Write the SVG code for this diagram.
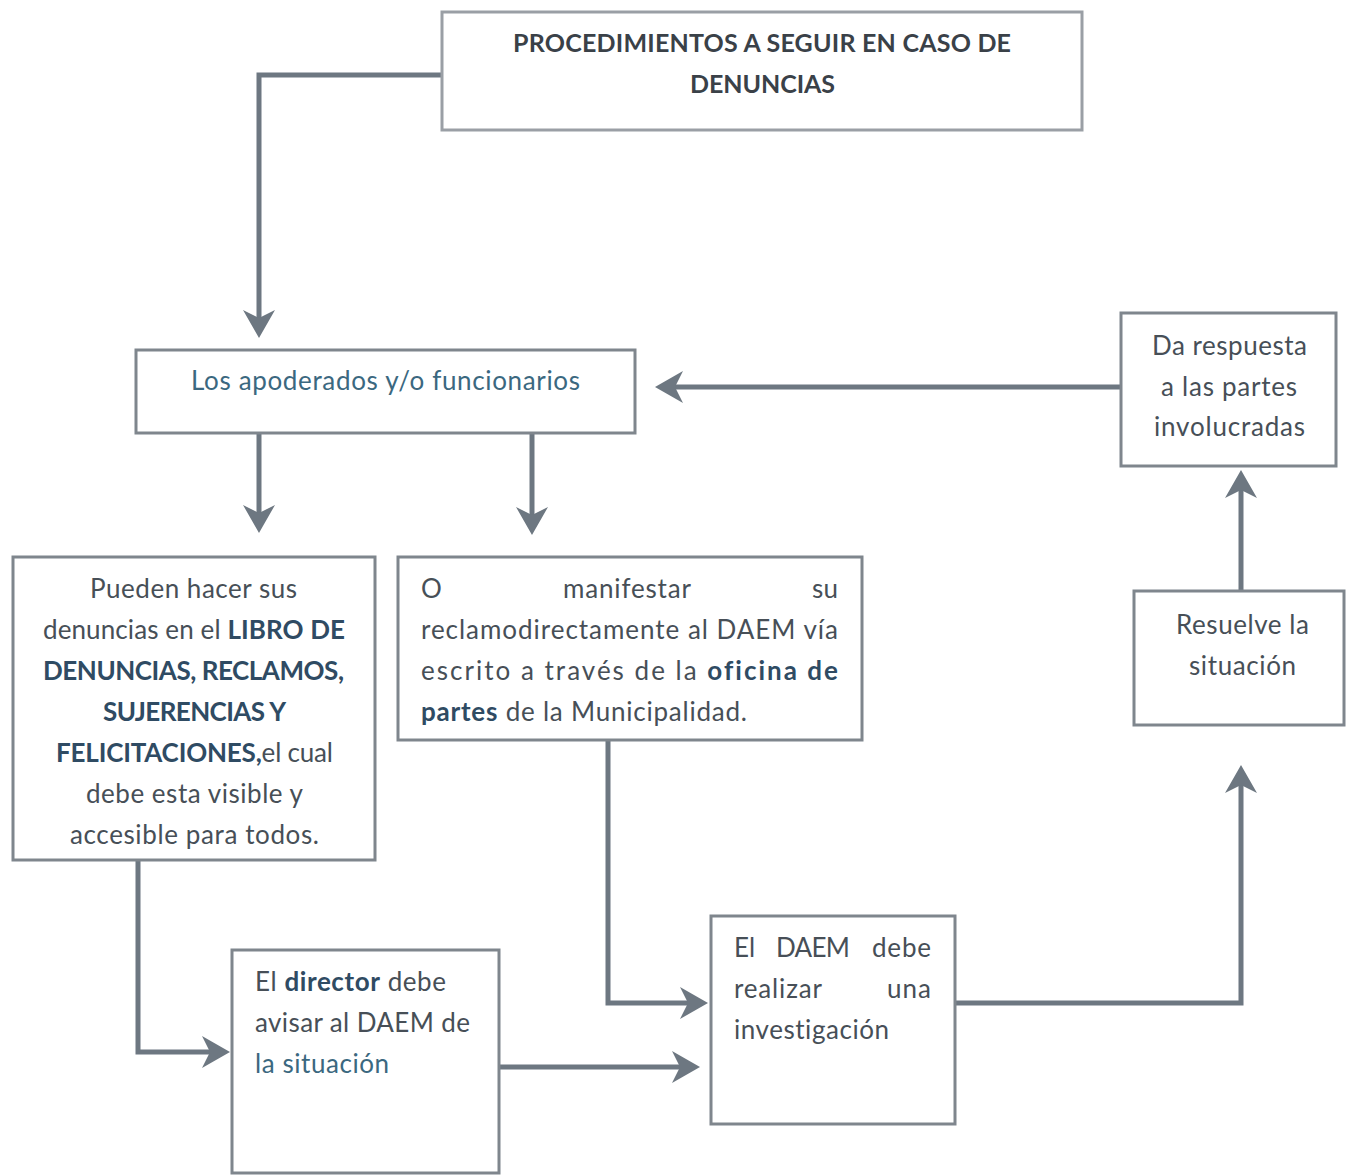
<svg xmlns="http://www.w3.org/2000/svg" width="1346" height="1176" viewBox="0 0 1346 1176">
  <defs>
    <style>
      .box { fill: #ffffff; stroke: #7f868d; stroke-width: 3; }
      .title-box { fill: #ffffff; stroke: #9a9fa5; stroke-width: 3; }
      .txt { font-family: Lato, "Open Sans", "Liberation Sans", sans-serif; font-size: 26px; fill: #474f57; font-variant-ligatures: none; }
      .blue { fill: #3b6880; }
      .b { font-weight: bold; fill: #2f4b63; }
      .title { font-family: Lato, "Open Sans", "Liberation Sans", sans-serif; font-size: 25px; font-weight: bold; fill: #3a4148; }
      .wire { fill: none; stroke: #6d7781; stroke-width: 5; stroke-linejoin: miter; }
    </style>
    <marker id="head" markerUnits="userSpaceOnUse" markerWidth="32" markerHeight="36" refX="18" refY="18" orient="auto" overflow="visible">
      <path d="M30,18 L2,2 L10,18 L2,34 Z" fill="#6d7781"/>
    </marker>
  </defs>

  <rect width="1346" height="1176" fill="#ffffff"/>

  <!-- connectors -->
  <g id="connectors">
    <path class="wire" d="M442,75 H259 V326" marker-end="url(#head)"/>
    <path class="wire" d="M259,433 V521" marker-end="url(#head)"/>
    <path class="wire" d="M532,433 V523" marker-end="url(#head)"/>
    <path class="wire" d="M138,860 V1052 H218" marker-end="url(#head)"/>
    <path class="wire" d="M608,740 V1003 H696" marker-end="url(#head)"/>
    <path class="wire" d="M499,1067 H688" marker-end="url(#head)"/>
    <path class="wire" d="M955,1003 H1241 V777" marker-end="url(#head)"/>
    <path class="wire" d="M1241,591 V482" marker-end="url(#head)"/>
    <path class="wire" d="M1121,387 H667" marker-end="url(#head)"/>
  </g>

  <!-- title -->
  <g id="title">
    <rect class="title-box" x="442" y="12" width="640" height="118"/>
    <text class="title" x="513" y="52" textLength="498">PROCEDIMIENTOS A SEGUIR EN CASO DE</text>
    <text class="title" x="690" y="93" textLength="145">DENUNCIAS</text>
  </g>

  <!-- who files the complaint -->
  <g id="apoderados">
    <rect class="box" x="136" y="350" width="499" height="83"/>
    <text class="txt blue" x="191" y="390" textLength="389">Los apoderados y/o funcionarios</text>
  </g>

  <!-- option 1: complaints book -->
  <g id="libro">
    <rect class="box" x="13" y="557" width="362" height="303"/>
    <text class="txt" x="90" y="598" textLength="207">Pueden hacer sus</text>
    <text class="txt" x="43" y="639" textLength="302">denuncias en el <tspan class="b">LIBRO DE</tspan></text>
    <text class="txt b" x="43" y="680" textLength="301">DENUNCIAS, RECLAMOS,</text>
    <text class="txt b" x="103" y="721" textLength="183">SUJERENCIAS Y</text>
    <text class="txt" x="56" y="762" textLength="277"><tspan class="b">FELICITACIONES,</tspan>el cual</text>
    <text class="txt" x="86" y="803" textLength="217">debe esta visible y</text>
    <text class="txt" x="70" y="844" textLength="249">accesible para todos.</text>
  </g>

  <!-- option 2: written claim to DAEM -->
  <g id="oficina">
    <rect class="box" x="398" y="557" width="464" height="183"/>
    <text class="txt" x="421" y="598">O</text>
    <text class="txt" x="563" y="598" textLength="128">manifestar</text>
    <text class="txt" x="812" y="598" textLength="26">su</text>
    <text class="txt" x="421" y="639" textLength="417">reclamodirectamente al DAEM vía</text>
    <text class="txt" x="421" y="680" textLength="417">escrito a través de la <tspan class="b">oficina de</tspan></text>
    <text class="txt" x="421" y="721" textLength="326"><tspan class="b">partes</tspan> de la Municipalidad.</text>
  </g>

  <!-- director notifies DAEM -->
  <g id="director">
    <rect class="box" x="232" y="950" width="267" height="223"/>
    <text class="txt" x="255" y="991" textLength="191">El <tspan class="b">director</tspan> debe</text>
    <text class="txt" x="255" y="1032" textLength="215">avisar al DAEM de</text>
    <text class="txt blue" x="255" y="1073" textLength="134">la situación</text>
  </g>

  <!-- DAEM investigates -->
  <g id="investigacion">
    <rect class="box" x="711" y="916" width="244" height="208"/>
    <text class="txt" x="734" y="957">El</text>
    <text class="txt" x="776" y="957" textLength="74">DAEM</text>
    <text class="txt" x="872" y="957" textLength="59">debe</text>
    <text class="txt" x="734" y="998" textLength="88">realizar</text>
    <text class="txt" x="887" y="998" textLength="44">una</text>
    <text class="txt" x="734" y="1039" textLength="155">investigación</text>
  </g>

  <!-- resolution -->
  <g id="resuelve">
    <rect class="box" x="1134" y="591" width="210" height="134"/>
    <text class="txt" x="1176" y="634" textLength="133">Resuelve la</text>
    <text class="txt" x="1189" y="675" textLength="107">situación</text>
  </g>

  <!-- answer to the parties -->
  <g id="respuesta">
    <rect class="box" x="1121" y="313" width="215" height="153"/>
    <text class="txt" x="1152" y="355" textLength="155">Da respuesta</text>
    <text class="txt" x="1161" y="396" textLength="136">a las partes</text>
    <text class="txt" x="1154" y="436" textLength="151">involucradas</text>
  </g>
</svg>
